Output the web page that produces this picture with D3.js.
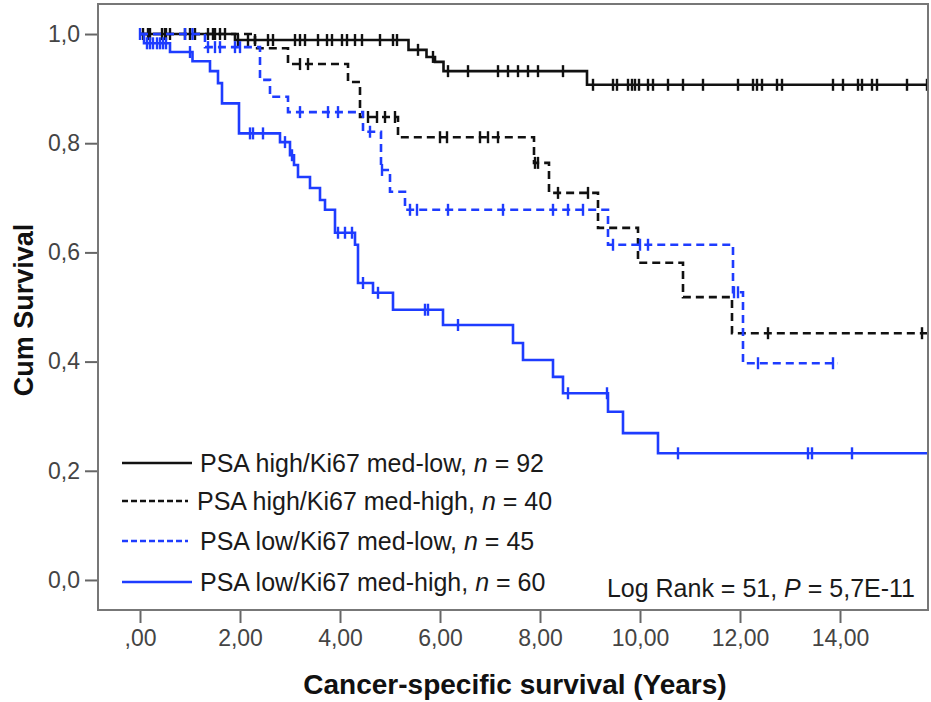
<!DOCTYPE html>
<html>
<head>
<meta charset="utf-8">
<script src="https://cdn.jsdelivr.net/npm/d3@7"></script>
<style>
  body { margin: 0; background: #fff; }
  svg { font-family: "Liberation Sans", Arial, sans-serif; }
</style>
</head>
<body>
<div class="chart"></div>
<script>
// group labels and sizes
var groupNames = ['PSA high/Ki67 med-low, ', 'PSA high/Ki67 med-high, ', 'PSA low/Ki67 med-low, ', 'PSA low/Ki67 med-high, '];
var groupN = [92, 40, 45, 60];

// PSA high / Ki67 med-low (black solid): event times, survival after, censored times
var hiLowT = [1.9, 5.37, 5.73, 5.9, 6.07, 8.94];
var hiLowS = [0.989, 0.971, 0.958, 0.949, 0.932, 0.907];
var hiLowC = [0.06, 0.16, 0.44, 0.52, 0.6, 0.9, 1.0, 1.36, 1.46, 1.6, 1.7,
  1.96, 2.16, 2.3, 2.56, 2.66, 3.1, 3.2, 3.3, 3.56, 3.74, 3.84, 4.04, 4.14, 4.3, 4.44, 4.8, 5.06, 5.14,
  5.56, 5.86, 6.16, 6.56, 7.16, 7.36, 7.56, 7.76, 7.96, 8.46,
  9.06, 9.46, 9.54, 9.76, 9.84, 9.9, 9.98, 10.16, 10.26, 10.56, 10.86, 11.26, 11.96, 12.26, 12.34,
  12.44, 12.74, 12.84, 13.86, 14.06, 14.36, 14.44, 14.64, 14.74, 15.34, 15.74];
var hiLowEnd = 15.76;

// PSA high / Ki67 med-high (black dashed)
var hiHighT = [2.3, 2.96, 4.16, 4.4, 5.16, 7.88, 8.18, 9.16, 9.96, 10.86, 11.84];
var hiHighS = [0.974, 0.945, 0.912, 0.848, 0.811, 0.764, 0.709, 0.645, 0.581, 0.518, 0.452];
var hiHighC = [0.2, 0.5, 1.1, 1.5, 3.2, 3.36, 4.56, 4.74, 4.9, 5.1, 6.0, 6.14, 6.8, 6.96, 7.16,
  7.9, 7.96, 8.36, 8.96, 12.56, 15.64];
var hiHighEnd = 15.76;

// PSA low / Ki67 med-low (blue dashed)
var loLowT = [1.3, 2.4, 2.6, 2.96, 4.46, 4.82, 5.0, 5.3, 9.36, 11.86, 12.06];
var loLowS = [0.976, 0.916, 0.885, 0.857, 0.821, 0.751, 0.711, 0.678, 0.614, 0.527, 0.397];
var loLowC = [0.0, 0.9, 1.05, 1.36, 1.5, 1.6, 1.9, 2.0, 3.2, 3.76, 3.96, 4.6, 4.84,
  5.4, 5.54, 6.16, 7.26, 8.26, 8.56, 8.86, 9.46, 10.0, 10.16, 11.88, 11.96, 12.36, 13.86];
var loLowEnd = 13.96;

// PSA low / Ki67 med-high (blue solid)
var loHighT = [0.08, 0.6, 1.05, 1.4, 1.56, 1.64, 1.98, 2.8, 3.0, 3.08, 3.16, 3.4, 3.6, 3.7, 3.9,
  4.3, 4.36, 4.66, 5.06, 6.06, 7.46, 7.66, 8.26, 8.46, 9.36, 9.66, 10.36];
var loHighS = [0.983, 0.967, 0.95, 0.932, 0.91, 0.873, 0.818, 0.802, 0.778, 0.76, 0.738, 0.718, 0.696, 0.678, 0.636,
  0.614, 0.544, 0.526, 0.495, 0.467, 0.434, 0.403, 0.372, 0.342, 0.308, 0.269, 0.232];
var loHighC = [0.14, 0.2, 0.26, 0.34, 0.4, 0.46, 0.52, 1.0, 2.2, 2.26, 2.46, 2.9, 3.04, 3.96, 4.1, 4.24,
  4.46, 4.76, 5.7, 5.76, 6.36, 8.56, 9.34, 10.76, 13.36, 13.44, 14.24];
var loHighEnd = 15.76;

var xTicks = [0, 2, 4, 6, 8, 10, 12, 14];
var yTicks = [0, 0.2, 0.4, 0.6, 0.8, 1.0];

var blue = '#1e3cff';
var series = [
  { t: hiLowT, s: hiLowS, c: hiLowC, end: hiLowEnd, color: '#111', dash: null },
  { t: hiHighT, s: hiHighS, c: hiHighC, end: hiHighEnd, color: '#111', dash: '8,5' },
  { t: loLowT, s: loLowS, c: loLowC, end: loLowEnd, color: blue, dash: '8,5' },
  { t: loHighT, s: loHighS, c: loHighC, end: loHighEnd, color: blue, dash: null }
];

var W = 931, H = 702;
var box = { left: 98, top: 4, right: 928, bottom: 610 };

var svg = d3.select('.chart').append('svg')
  .attr('width', W).attr('height', H);

var xScale = d3.scaleLinear().domain([-0.84, 15.76]).range([box.left, box.right]);
var yScale = d3.scaleLinear().domain([-0.055, 1.055]).range([box.bottom, box.top]);

var comma = d => d.toFixed(1).replace('.', ',');
var comma2 = d => d === 0 ? ',00' : d.toFixed(2).replace('.', ',');

var yAxis = svg.append('g')
  .attr('transform', `translate(${box.left}, 0)`)
  .call(d3.axisLeft(yScale).tickValues(yTicks).tickFormat(comma).tickSize(13).tickPadding(5).tickSizeOuter(0));
var xAxis = svg.append('g')
  .attr('transform', `translate(0, ${box.bottom})`)
  .call(d3.axisBottom(xScale).tickValues(xTicks).tickFormat(comma2).tickSize(13).tickPadding(7).tickSizeOuter(0));

[xAxis, yAxis].forEach(a => {
  a.select('.domain').remove();
  a.selectAll('line').attr('stroke', '#666').attr('stroke-width', 2);
  a.selectAll('text').style('font-size', '23px').attr('fill', '#444');
});

svg.append('clipPath').attr('id', 'clip').append('rect')
  .attr('x', box.left).attr('y', box.top)
  .attr('width', box.right - box.left).attr('height', box.bottom - box.top);

var line = d3.line()
  .x(d => xScale(d[0]))
  .y(d => yScale(d[1]))
  .curve(d3.curveStepAfter);

function survAt(sr, t) {
  var v = 1;
  sr.t.forEach((tt, i) => { if (tt <= t) v = sr.s[i]; });
  return v;
}

var plot = svg.append('g').attr('clip-path', 'url(#clip)');

series.forEach(sr => {
  var pts = [[0, 1]].concat(sr.t.map((t, i) => [t, sr.s[i]]));
  pts.push([sr.end, sr.s[sr.s.length - 1]]);
  plot.append('path')
    .attr('d', line(pts))
    .style('fill', 'none')
    .style('stroke', sr.color)
    .style('stroke-width', 2.6)
    .style('stroke-dasharray', sr.dash);
  plot.selectAll(null)
    .data(sr.c)
    .enter()
    .append('line')
    .attr('x1', d => xScale(d)).attr('x2', d => xScale(d))
    .attr('y1', d => yScale(survAt(sr, d)) - 6)
    .attr('y2', d => yScale(survAt(sr, d)) + 6)
    .style('stroke', sr.color)
    .style('stroke-width', 2.4);
});

// plot frame
svg.append('rect')
  .attr('x', box.left).attr('y', box.top)
  .attr('width', box.right - box.left).attr('height', box.bottom - box.top)
  .style('fill', 'none').style('stroke', '#777').style('stroke-width', 2);

// legend
var legendY = [463, 501, 541, 582];
var legend = svg.append('g');
series.forEach((sr, i) => {
  legend.append('line')
    .attr('x1', 122).attr('x2', sr.dash ? 188 : 192)
    .attr('y1', legendY[i]).attr('y2', legendY[i])
    .style('stroke', sr.color)
    .style('stroke-width', 2.6)
    .style('stroke-dasharray', sr.dash ? '6,3' : null);
  var txt = legend.append('text')
    .attr('x', sr.dash && i === 1 ? 197 : 200)
    .attr('y', legendY[i] + 9)
    .style('font-size', '25px')
    .attr('fill', '#1a1a1a');
  txt.append('tspan').text(groupNames[i]);
  txt.append('tspan').style('font-style', 'italic').text('n');
  txt.append('tspan').text(' = ' + groupN[i]);
});

var lr = svg.append('text')
  .attr('x', 915).attr('y', 597)
  .attr('text-anchor', 'end')
  .style('font-size', '25px')
  .attr('fill', '#1a1a1a');
lr.append('tspan').text('Log Rank = 51, ');
lr.append('tspan').style('font-style', 'italic').text('P');
lr.append('tspan').text(' = 5,7E-11');

// axis titles
svg.append('text')
  .attr('x', 515).attr('y', 694)
  .attr('text-anchor', 'middle')
  .style('font-size', '28px').style('font-weight', 'bold')
  .attr('fill', '#111')
  .text('Cancer-specific survival (Years)');

svg.append('text')
  .attr('transform', 'translate(33, 310) rotate(-90)')
  .attr('text-anchor', 'middle')
  .style('font-size', '27px').style('font-weight', 'bold')
  .attr('fill', '#111')
  .text('Cum Survival');
</script>
</body>
</html>
